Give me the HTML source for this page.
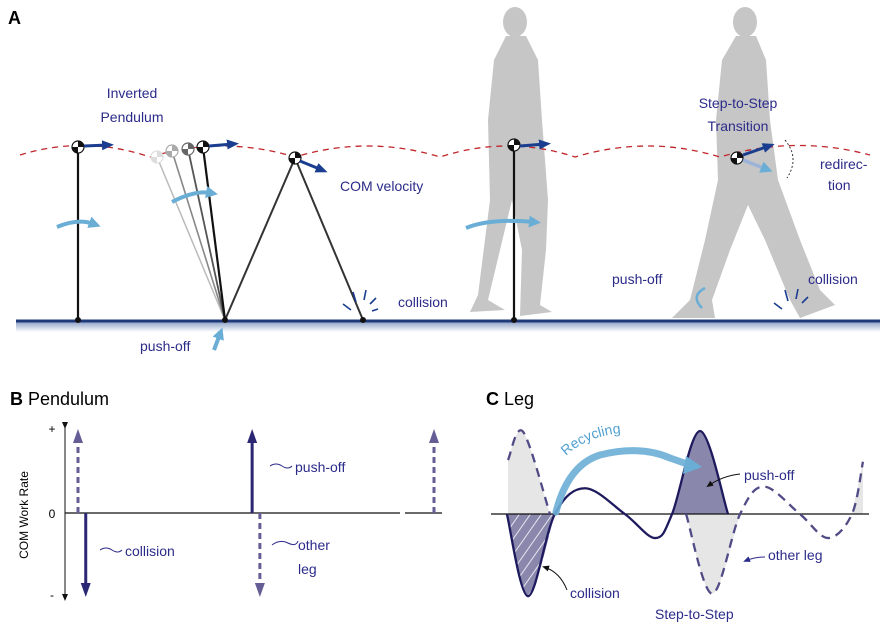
<!DOCTYPE html>
<html><head><meta charset="utf-8"><style>
body{margin:0;background:#fff}
svg{display:block;font-family:"Liberation Sans",sans-serif}
</style></head><body>
<svg id="fig" width="896" height="627" viewBox="0 0 896 627">
<defs>
<linearGradient id="gnd" x1="0" y1="0" x2="0" y2="1"><stop offset="0" stop-color="#8fa3c8"/><stop offset="1" stop-color="#fff"/></linearGradient>
<marker id="ahD" markerUnits="userSpaceOnUse" markerWidth="12" markerHeight="10" refX="6" refY="5" orient="auto"><path d="M0,0L12,5L0,10z" fill="#1a3d8f"/></marker>
<marker id="ahL" markerUnits="userSpaceOnUse" markerWidth="12" markerHeight="12" refX="5" refY="6" orient="auto"><path d="M0,0L12,6L0,12z" fill="#6aaed6"/></marker>
<marker id="ahN" markerUnits="userSpaceOnUse" markerWidth="14" markerHeight="10" refX="4" refY="5" orient="auto"><path d="M0,0L14,5L0,10z" fill="#2b2773"/></marker>
<marker id="ahP" markerUnits="userSpaceOnUse" markerWidth="14" markerHeight="10" refX="4" refY="5" orient="auto"><path d="M0,0L14,5L0,10z" fill="#655e96"/></marker>
<marker id="ahK" markerUnits="userSpaceOnUse" markerWidth="7" markerHeight="6" refX="5" refY="3" orient="auto"><path d="M0,0L7,3L0,6z" fill="#111"/></marker>
<marker id="ahS" markerUnits="userSpaceOnUse" markerWidth="7" markerHeight="6" refX="5" refY="3" orient="auto"><path d="M0,0L7,3L0,6z" fill="#2b2b8a"/></marker>
<pattern id="hatch" width="9" height="9" patternUnits="userSpaceOnUse" patternTransform="rotate(35)"><rect width="9" height="9" fill="#8a87ad"/><line x1="0" y1="0" x2="0" y2="9" stroke="#fff" stroke-width="1.6"/></pattern>
</defs>

<!-- PANEL A -->
<text x="8" y="24" font-size="18" font-weight="bold">A</text>
<g fill="#c6c6c6">
<ellipse cx="515" cy="22" rx="12" ry="15"/>
<path d="M506,36 L526,36 L538,60 L542,120 L548,200 L546,250 L540,305 L552,312 L520,316 L522,250 L512,200 L500,250 L488,300 L505,310 L470,312 L478,295 L490,200 L488,120 L494,60 Z"/>
</g>
<g fill="#c6c6c6">
<ellipse cx="745" cy="22" rx="12" ry="15"/>
<path d="M736,36 L756,36 L766,60 L770,120 L778,180 L800,240 L820,290 L835,305 L800,318 L790,300 L765,240 L748,205 L730,250 L712,300 L715,318 L672,318 L690,300 L705,240 L718,180 L716,120 L722,60 Z"/>
</g>
<rect x="16" y="322" width="864" height="10" fill="url(#gnd)"/>
<line x1="16" y1="321" x2="880" y2="321" stroke="#1f3a78" stroke-width="3"/>
<path d="M20,155 Q85,135 150,157 Q222,135 295,157 Q368,135 440,157 Q508,135 575,157 Q648,135 720,157 Q795,135 870,155" fill="none" stroke="#c0272d" stroke-width="1.3" stroke-dasharray="6,5"/>

<g>
<line x1="78" y1="147" x2="78" y2="320" stroke="#111" stroke-width="2.2"/><circle cx="78" cy="320" r="3" fill="#111"/>
</g>
<g>
<line x1="225" y1="320" x2="157" y2="157" stroke="#bbb" stroke-width="1.5"/>
<line x1="225" y1="320" x2="172" y2="151" stroke="#888" stroke-width="1.6"/>
<line x1="225" y1="320" x2="188" y2="149" stroke="#555" stroke-width="1.8"/>
<line x1="225" y1="320" x2="203" y2="147" stroke="#111" stroke-width="2.2"/>
<polyline points="225,320 295,158 363,320" fill="none" stroke="#333" stroke-width="2"/>
<circle cx="225" cy="320" r="3" fill="#111"/><circle cx="363" cy="320" r="3" fill="#111"/>
</g>
<line x1="514" y1="147" x2="514" y2="320" stroke="#111" stroke-width="2.2"/>
<circle cx="514" cy="320" r="3" fill="#111"/>
<g id="coms"></g>
<g stroke="#1a3d8f" stroke-width="3" fill="none">
<line x1="84" y1="146" x2="108" y2="145" marker-end="url(#ahD)"/>
<line x1="209" y1="146" x2="233" y2="144" marker-end="url(#ahD)"/>
<line x1="300" y1="161" x2="322" y2="170" marker-end="url(#ahD)"/>
<line x1="520" y1="146" x2="545" y2="144" marker-end="url(#ahD)"/>
<line x1="743" y1="155" x2="769" y2="146" marker-end="url(#ahD)"/>
</g>
<line x1="743" y1="160" x2="766" y2="169" stroke="#9db3d8" stroke-width="3.5" marker-end="url(#ahL)"/>
<path d="M785,140 Q800,158 787,178" fill="none" stroke="#333" stroke-width="1" stroke-dasharray="2,2"/>
<g stroke="#6aaed6" stroke-width="4" fill="none">
<path d="M57,227 Q78,218 94,224" marker-end="url(#ahL)"/>
<path d="M172,202 Q195,190 211,193" marker-end="url(#ahL)"/>
<path d="M466,228 Q490,218 534,222" marker-end="url(#ahL)"/>
<path d="M214,350 L220,334" marker-end="url(#ahL)"/>
<path d="M705,288 Q690,296 702,308" stroke-width="2.5"/>
</g>
<g stroke="#1a3d8f" stroke-width="1.6">
<line x1="343" y1="304" x2="351" y2="310"/><line x1="353" y1="292" x2="356" y2="302"/><line x1="366" y1="290" x2="364" y2="300"/><line x1="376" y1="298" x2="370" y2="304"/><line x1="378" y1="309" x2="372" y2="311"/>
<line x1="774" y1="303" x2="782" y2="309"/><line x1="785" y1="290" x2="788" y2="301"/><line x1="798" y1="289" x2="796" y2="299"/><line x1="808" y1="297" x2="802" y2="303"/>
</g>
<g fill="#2b2b8a" font-size="14">
<text x="132" y="98" text-anchor="middle">Inverted</text>
<text x="132" y="122" text-anchor="middle">Pendulum</text>
<text x="340" y="191">COM velocity</text>
<text x="398" y="307">collision</text>
<text x="140" y="351">push-off</text>
<text x="738" y="108" text-anchor="middle">Step-to-Step</text>
<text x="738" y="131" text-anchor="middle">Transition</text>
<text x="820" y="169">redirec-</text>
<text x="828" y="190">tion</text>
<text x="612" y="284">push-off</text>
<text x="808" y="284">collision</text>
</g>

<!-- PANEL B -->
<text x="10" y="405" font-size="18"><tspan font-weight="bold">B</tspan> Pendulum</text>
<text x="28" y="515" font-size="12" text-anchor="middle" transform="rotate(-90 28 515)">COM Work Rate</text>
<g id="axisB"></g>
<g id="spikes"></g>
<g fill="none" stroke="#2b2b8a" stroke-width="1">
<path d="M100,550 q6,-4 12,0 t10,0"/><path d="M270,466 q6,-4 12,0 t10,0"/><path d="M272,545 q8,-6 16,-2 t10,-2"/>
</g>
<g fill="#2b2b8a" font-size="14">
<text x="125" y="556">collision</text>
<text x="295" y="472">push-off</text>
<text x="298" y="550">other</text>
<text x="298" y="574">leg</text>
</g>

<!-- PANEL C -->
<text x="486" y="405" font-size="18"><tspan font-weight="bold">C</tspan> Leg</text>
<g id="legC"></g>
<path d="M556,512 Q568,465 600,455 Q640,445 670,458 L690,465" fill="none" stroke="#6aaed6" stroke-width="7" stroke-linecap="round" opacity="0.9"/>
<path d="M686,456 L702,467 L683,474 Z" fill="#6aaed6"/>
<text font-size="14" fill="#4f9fd0"><textPath href="#recPath">Recycling</textPath></text>
<path id="recPath" d="M566,456 Q590,432 640,432" fill="none"/>
<g fill="none" stroke="#111" stroke-width="1">
<path d="M740,474 Q722,476 708,486" marker-end="url(#ahK)"/>
<path d="M567,590 Q560,572 544,567" marker-end="url(#ahK)"/>
<path d="M765,557 Q755,557 745,561" stroke="#2b2b8a" marker-end="url(#ahS)"/>
</g>
<g fill="#2b2b8a" font-size="14">
<text x="744" y="480">push-off</text>
<text x="570" y="598">collision</text>
<text x="768" y="560">other leg</text>
<text x="655" y="619">Step-to-Step</text>
</g>
</svg>
<script>
// Panel B spike data
const spikeSign = [1, -1, 1, -1, 1];
const spikeStyle = ['other', 'own', 'own', 'other', 'other'];
const spikeX = [3, 5, 48, 50, 95]; // gait-cycle %
// Panel C curve data: [gait %, normalized work rate]
const solidT = [4.2, 9.8, 16.9, 24.9, 35.4, 43.4, 47.9, 55.3, 62.7];
const solidV = [0, -0.99, 0, 0.31, 0, -0.29, 0, 1, 0];
const dashT = [4.5, 8.5, 15.6];
const dashV = [0.65, 0.99, 0];
const dash2T = [51.6, 58.5, 65.9, 72.2, 81.7, 89.2, 95.5, 98.4];
const dash2V = [0, -0.96, 0, 0.33, 0, -0.29, 0, 0.63];

const NS = 'http://www.w3.org/2000/svg';
function mk(tag, attrs, parent){const e=document.createElementNS(NS,tag);for(const k in attrs)e.setAttribute(k,attrs[k]);parent.appendChild(e);return e;}

// COM markers
const comG=document.getElementById('coms');
[[157,157,'#ddd'],[172,151,'#aaa'],[188,149,'#666'],[203,147,'#111'],[78,147,'#111'],[295,158,'#111'],[514,145,'#111'],[737,158,'#111']].forEach(c=>{
  const g=mk('g',{},comG);
  
  
  const [x,y,col]=c, r=6;
  mk('circle',{cx:x,cy:y,r:r,fill:'#fff',stroke:col,'stroke-width':1.2},g);
  mk('path',{d:`M${x},${y}L${x},${y-r}A${r},${r} 0 0 1 ${x+r},${y}Z`,fill:col},g);
  mk('path',{d:`M${x},${y}L${x},${y+r}A${r},${r} 0 0 1 ${x-r},${y}Z`,fill:col},g);
});

// Panel B axes
const bx0=65, bzero=513, bAmp=84;
const bxScale=t=>78+ (t-3)*(356/92);
const byScale=v=>bzero - v*bAmp;
const ax=document.getElementById('axisB');
mk('line',{x1:bx0,y1:byScale(1)-2,x2:bx0,y2:byScale(-1)+2,stroke:'#111','stroke-width':1,'marker-start':'url(#ahK)','marker-end':'url(#ahK)'},ax);
mk('line',{x1:bx0,y1:bzero,x2:400,y2:bzero,stroke:'#111','stroke-width':1.2},ax);
mk('line',{x1:405,y1:bzero,x2:442,y2:bzero,stroke:'#111','stroke-width':1.2},ax);
[['+',1],['0',0],['-',-1]].forEach(([s,v])=>{const t=mk('text',{x:52,y:byScale(v)+ (v===1?4:v===0?5:2),'font-size':12,'text-anchor':'middle'},ax);t.textContent=s;});
const sp=document.getElementById('spikes');
spikeX.forEach((t,i)=>{
  const x=bxScale(t), own=spikeStyle[i]==='own';
  const y2=byScale(spikeSign[i])+(spikeSign[i]>0?10:-10);
  const l=mk('line',{x1:x,y1:bzero,x2:x,y2:y2,stroke:own?'#2b2773':'#655e96','stroke-width':3,'stroke-dasharray':own?'none':'6,4','marker-end':own?'url(#ahN)':'url(#ahP)'},sp);
  
  
});

// Panel C
const cx=t=>491+t*3.78, cy=v=>514-v*83;
function smooth(T,V){const p=T.map((t,i)=>[cx(t),cy(V[i])]);let d=`M${p[0][0]},${p[0][1]}`;
  for(let i=0;i<p.length-1;i++){const a=p[i-1]||p[i],b=p[i],c=p[i+1],e=p[i+2]||c;
    d+=`C${b[0]+(c[0]-a[0])/6},${b[1]+(c[1]-a[1])/6} ${c[0]-(e[0]-b[0])/6},${c[1]-(e[1]-b[1])/6} ${c[0]},${c[1]}`;}return d;}
function sub(T,V,i0,i1){return [T.slice(i0,i1+1),V.slice(i0,i1+1)];}
const lc=document.getElementById('legC');
function fill(T,V,col,name){const d=smooth(T,V)+`L${cx(T[T.length-1])},514L${cx(T[0])},514Z`;const e=mk('path',{d:d,fill:col},lc);}
fill(dashT,dashV,'#e6e6e6','other-leg-fill-1');
fill(...sub(dash2T,dash2V,0,2),'#e6e6e6','other-leg-fill-2');
fill(...sub(dash2T,dash2V,6,7),'#e6e6e6','other-leg-fill-3');
fill(...sub(solidT,solidV,0,2),'url(#hatch)','collision-fill');
fill(...sub(solidT,solidV,6,8),'#8a87ad','push-off-fill');
const base=mk('line',{x1:491,y1:514,x2:869,y2:514,stroke:'#111','stroke-width':1.3},lc);


const s=mk('path',{d:smooth(solidT,solidV),fill:'none',stroke:'#1e1a5e','stroke-width':2.3},lc);


[[dashT,dashV],[dash2T,dash2V]].forEach(([T,V])=>{const e=mk('path',{d:smooth(T,V),fill:'none',stroke:'#514c86','stroke-width':2.3,'stroke-dasharray':'9,6'},lc);
  
  });
</script>
</body></html>
